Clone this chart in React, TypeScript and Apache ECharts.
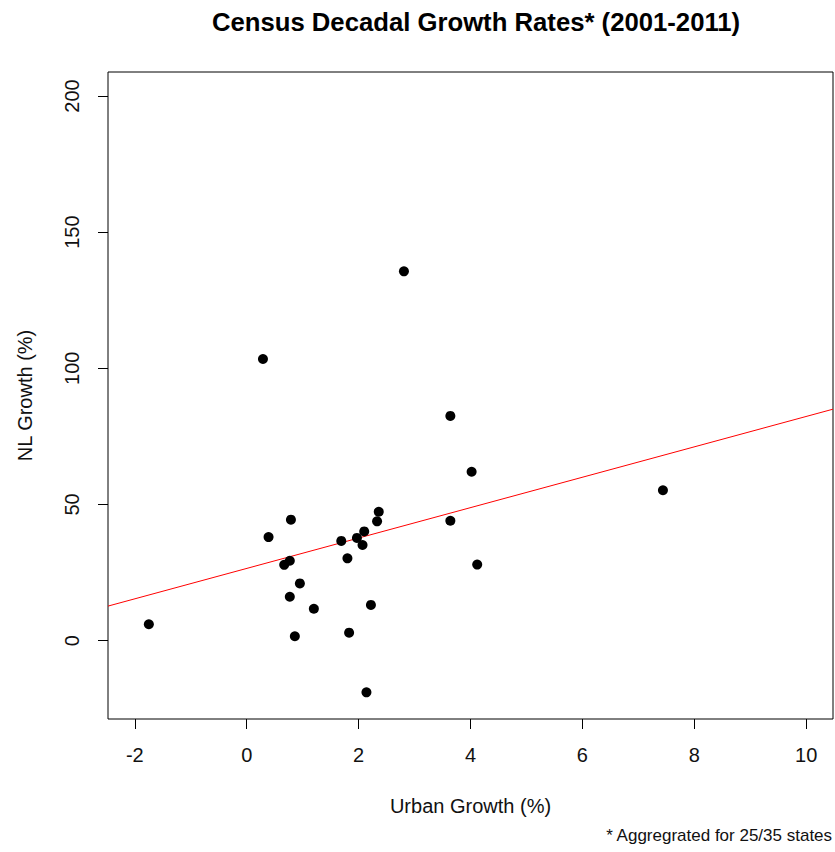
import React, { useEffect, useRef } from "react";
import * as echarts from "echarts";

const urbanGrowth = [-1.75, 0.29, 0.39, 0.67, 0.77, 0.77, 0.79, 0.86, 0.95, 1.2, 1.69, 1.8, 1.83, 1.97, 2.07, 2.1, 2.14, 2.22, 2.33, 2.36, 2.81, 3.64, 3.64, 4.02, 4.12, 7.44];
const nlGrowth = [6.0, 103.4, 38.0, 27.8, 29.3, 16.1, 44.4, 1.6, 21.0, 11.7, 36.6, 30.2, 2.9, 37.7, 35.1, 40.1, -19.0, 13.1, 43.8, 47.3, 135.6, 82.5, 44.0, 62.0, 27.9, 55.2];
const xTicks = [-2, 0, 2, 4, 6, 8, 10];
const yTicks = [0, 50, 100, 150, 200];
const xLimits = [-2.48, 10.48];
const yLimits = [-28.8, 208.8];
const fitIntercept = 26.5;
const fitSlope = 5.58;

const FONT = "'Liberation Sans', Arial, sans-serif";

export default function App() {
  const ref = useRef<HTMLDivElement>(null);
  useEffect(() => {
    document.body.style.margin = "0";
    const chart = echarts.init(ref.current!, null, { renderer: "svg" });
    const points = urbanGrowth.map((x, i) => [x, nlGrowth[i]]);
    const fitLine = xLimits.map((x) => [x, fitIntercept + fitSlope * x]);
    chart.setOption({
      animation: false,
      backgroundColor: "#ffffff",
      title: {
        text: "Census Decadal Growth Rates* (2001-2011)",
        left: 471,
        top: 4,
        textAlign: "center",
        textStyle: { fontFamily: FONT, fontSize: 25.7, fontWeight: "bold", color: "#000" },
      },
      grid: {
        left: 108,
        right: 2,
        top: 72,
        bottom: 133,
        show: true,
        borderColor: "#000",
        borderWidth: 1,
        backgroundColor: "transparent",
      },
      xAxis: {
        type: "value",
        min: xLimits[0],
        max: xLimits[1],
        name: "Urban Growth (%)",
        nameLocation: "middle",
        nameGap: 77,
        nameTextStyle: { fontFamily: FONT, fontSize: 20, color: "#111" },
        axisLine: { show: false, onZero: false },
        splitLine: { show: false },
        axisTick: { show: true, inside: false, length: 10, customValues: xTicks, lineStyle: { color: "#000" } },
        axisLabel: { customValues: xTicks, margin: 26, fontFamily: FONT, fontSize: 20, color: "#111" },
      },
      yAxis: {
        type: "value",
        min: yLimits[0],
        max: yLimits[1],
        name: "NL Growth (%)",
        nameLocation: "middle",
        nameRotate: 90,
        nameGap: 73,
        nameTextStyle: { fontFamily: FONT, fontSize: 20, color: "#111" },
        axisLine: { show: false, onZero: false },
        splitLine: { show: false },
        axisTick: { show: true, inside: false, length: 10, customValues: yTicks, lineStyle: { color: "#000" } },
        axisLabel: { customValues: yTicks, rotate: 90, margin: 26, fontFamily: FONT, fontSize: 20, color: "#111" },
      },
      graphic: [
        {
          type: "text",
          right: 2,
          top: 827,
          style: { text: "* Aggregrated for 25/35 states", fontFamily: FONT, fontSize: 17, fill: "#111" },
        },
      ],
      series: [
        {
          type: "line",
          data: fitLine,
          showSymbol: false,
          symbol: "none",
          clip: true,
          lineStyle: { color: "#ff0000", width: 1 },
          z: 2,
        },
        {
          type: "scatter",
          data: points,
          symbol: "circle",
          symbolSize: 10,
          itemStyle: { color: "#000", opacity: 1 },
          z: 3,
        },
      ],
    });
    return () => chart.dispose();
  }, []);
  return <div ref={ref} style={{ width: 835, height: 852 }} />;
}
